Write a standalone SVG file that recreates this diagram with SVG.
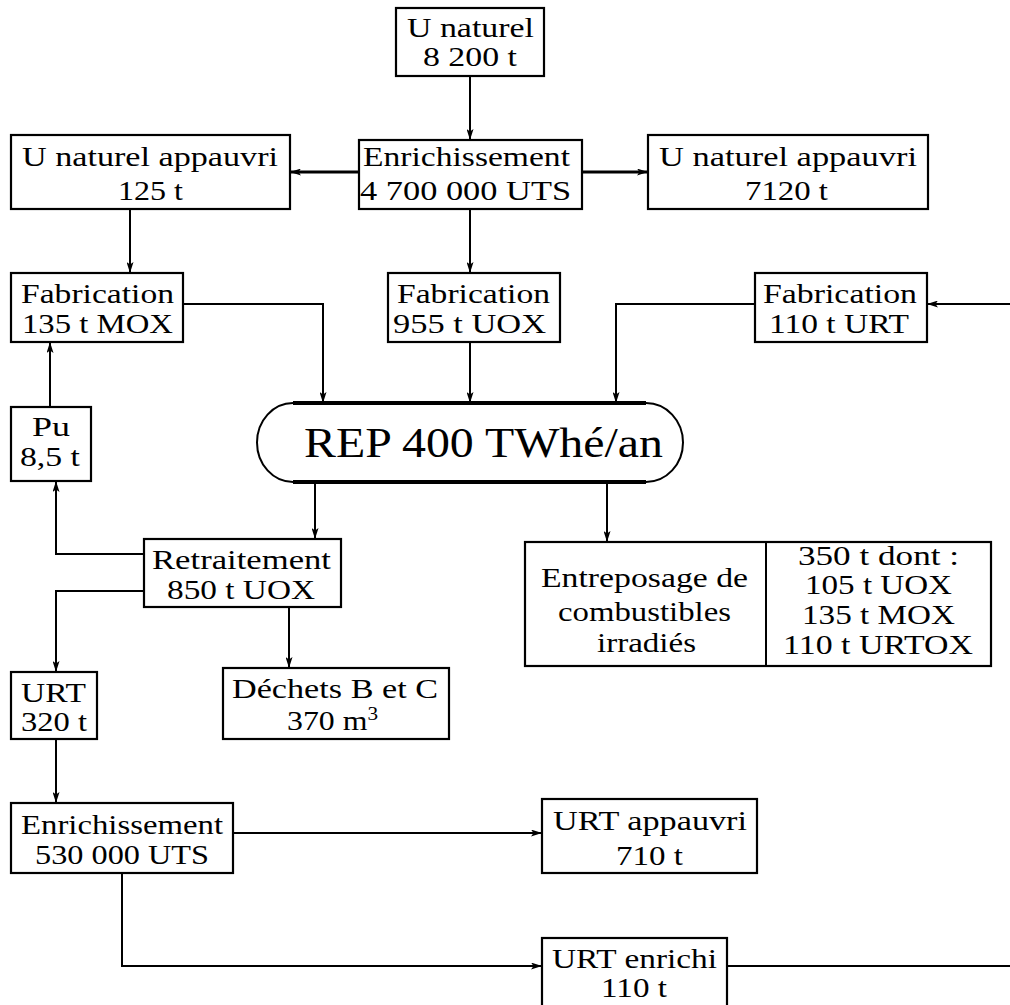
<svg xmlns="http://www.w3.org/2000/svg" width="1010" height="1005" viewBox="0 0 1010 1005">
<style>
.box{fill:#fff;stroke:#000;stroke-width:2.2}
.t{font-family:"Liberation Serif","Times New Roman",serif;font-size:27px;fill:#000}
.big{font-size:43px}
.c{fill:none;stroke:#000;stroke-width:2}
.ck{fill:none;stroke:#000;stroke-width:3}
</style>
<defs>
<marker id="ah" viewBox="0 0 11 7" refX="11" refY="3.5" markerWidth="11" markerHeight="7" markerUnits="userSpaceOnUse" orient="auto">
<path d="M0,0 L11,3.5 L0,7 L2.5,3.5 Z" fill="#000"/>
</marker>
</defs>
<rect width="1010" height="1005" fill="#fff"/>
<g id="connectors">
<path class="c" d="M470,76 V140" marker-end="url(#ah)"/>
<path class="ck" d="M359,172 H290" marker-end="url(#ah)"/>
<path class="ck" d="M582,172 H648" marker-end="url(#ah)"/>
<path class="c" d="M130,209 V273" marker-end="url(#ah)"/>
<path class="c" d="M470,209 V273" marker-end="url(#ah)"/>
<path class="c" d="M470,342 V403" marker-end="url(#ah)"/>
<path class="c" d="M183,304 H323 V403" marker-end="url(#ah)"/>
<path class="c" d="M755,304 H616 V403" marker-end="url(#ah)"/>
<path class="c" d="M1010,304 H927" marker-end="url(#ah)"/>
<path class="c" d="M50,407 V342" marker-end="url(#ah)"/>
<path class="c" d="M315,482 V539" marker-end="url(#ah)"/>
<path class="c" d="M607,482 V542" marker-end="url(#ah)"/>
<path class="c" d="M144,554 H56 V481" marker-end="url(#ah)"/>
<path class="c" d="M144,591 H56 V672" marker-end="url(#ah)"/>
<path class="c" d="M289,607 V668" marker-end="url(#ah)"/>
<path class="c" d="M56,739 V803" marker-end="url(#ah)"/>
<path class="c" d="M233,833 H542" marker-end="url(#ah)"/>
<path class="c" d="M122,873 V966 H542" marker-end="url(#ah)"/>
<path class="c" d="M727,966 H1010"/>
</g>
<g id="n-unaturel">
<rect class="box" x="396" y="8" width="148" height="68"/>
<text class="t" x="407" y="37" textLength="127" lengthAdjust="spacingAndGlyphs">U naturel</text>
<text class="t" x="423" y="66" textLength="94" lengthAdjust="spacingAndGlyphs">8 200 t</text>
</g>
<g id="n-appauvri-left">
<rect class="box" x="11" y="135" width="279" height="74"/>
<text class="t" x="22" y="166" textLength="256" lengthAdjust="spacingAndGlyphs">U naturel appauvri</text>
<text class="t" x="118" y="200" textLength="65" lengthAdjust="spacingAndGlyphs">125 t</text>
</g>
<g id="n-enrich1">
<rect class="box" x="359" y="140" width="223" height="69"/>
<text class="t" x="363" y="166" textLength="207" lengthAdjust="spacingAndGlyphs">Enrichissement</text>
<text class="t" x="360" y="200" textLength="211" lengthAdjust="spacingAndGlyphs">4 700 000 UTS</text>
</g>
<g id="n-appauvri-right">
<rect class="box" x="648" y="135" width="280" height="74"/>
<text class="t" x="659" y="166" textLength="258" lengthAdjust="spacingAndGlyphs">U naturel appauvri</text>
<text class="t" x="745" y="200" textLength="83" lengthAdjust="spacingAndGlyphs">7120 t</text>
</g>
<g id="n-fab-mox">
<rect class="box" x="11" y="273" width="172" height="69"/>
<text class="t" x="21" y="303" textLength="153" lengthAdjust="spacingAndGlyphs">Fabrication</text>
<text class="t" x="22" y="333" textLength="151" lengthAdjust="spacingAndGlyphs">135 t MOX</text>
</g>
<g id="n-fab-uox">
<rect class="box" x="388" y="273" width="172" height="69"/>
<text class="t" x="397" y="303" textLength="153" lengthAdjust="spacingAndGlyphs">Fabrication</text>
<text class="t" x="393" y="333" textLength="153" lengthAdjust="spacingAndGlyphs">955 t UOX</text>
</g>
<g id="n-fab-urt">
<rect class="box" x="755" y="273" width="172" height="69"/>
<text class="t" x="763" y="303" textLength="154" lengthAdjust="spacingAndGlyphs">Fabrication</text>
<text class="t" x="769" y="333" textLength="140" lengthAdjust="spacingAndGlyphs">110 t URT</text>
</g>
<g id="n-pu">
<rect class="box" x="11" y="407" width="80" height="74"/>
<text class="t" x="32" y="436" textLength="38" lengthAdjust="spacingAndGlyphs">Pu</text>
<text class="t" x="20" y="466" textLength="60" lengthAdjust="spacingAndGlyphs">8,5 t</text>
</g>
<g id="n-rep">
<path d="M293,403 H646 A37,39.5 0 0 1 646,482 H293 A36,39.5 0 0 1 293,403 Z" fill="#fff" stroke="none"/>
<path d="M646,403 A37,39.5 0 0 1 646,482 M293,482 A36,39.5 0 0 1 293,403" fill="none" stroke="#000" stroke-width="2"/>
<path d="M293,403 H646 M293,482 H646" fill="none" stroke="#000" stroke-width="4"/>
<text class="t big" x="304" y="457" textLength="359" lengthAdjust="spacingAndGlyphs">REP 400 TWhé/an</text>
</g>
<g id="n-retraitement">
<rect class="box" x="144" y="539" width="197" height="68"/>
<text class="t" x="152" y="569" textLength="179" lengthAdjust="spacingAndGlyphs">Retraitement</text>
<text class="t" x="167" y="599" textLength="148" lengthAdjust="spacingAndGlyphs">850 t UOX</text>
</g>
<g id="n-entreposage">
<rect class="box" x="525" y="542" width="466" height="124"/>
<line x1="766" y1="542" x2="766" y2="666" stroke="#000" stroke-width="2"/>
<text class="t" x="541" y="587" textLength="207" lengthAdjust="spacingAndGlyphs">Entreposage de</text>
<text class="t" x="558" y="621" textLength="173" lengthAdjust="spacingAndGlyphs">combustibles</text>
<text class="t" x="597" y="652" textLength="99" lengthAdjust="spacingAndGlyphs">irradiés</text>
<text class="t" x="798" y="565" textLength="161" lengthAdjust="spacingAndGlyphs">350 t dont :</text>
<text class="t" x="805" y="594" textLength="147" lengthAdjust="spacingAndGlyphs">105 t UOX</text>
<text class="t" x="802" y="624" textLength="153" lengthAdjust="spacingAndGlyphs">135 t MOX</text>
<text class="t" x="783" y="654" textLength="190" lengthAdjust="spacingAndGlyphs">110 t URTOX</text>
</g>
<g id="n-urt">
<rect class="box" x="11" y="672" width="86" height="67"/>
<text class="t" x="21" y="702" textLength="65" lengthAdjust="spacingAndGlyphs">URT</text>
<text class="t" x="21" y="731" textLength="66" lengthAdjust="spacingAndGlyphs">320 t</text>
</g>
<g id="n-dechets">
<rect class="box" x="223" y="668" width="226" height="71"/>
<text class="t" x="232" y="698" textLength="206" lengthAdjust="spacingAndGlyphs">Déchets B et C</text>
<text class="t" x="287" y="730" textLength="91" lengthAdjust="spacingAndGlyphs">370 m<tspan font-size="18" dy="-10">3</tspan></text>
</g>
<g id="n-enrich2">
<rect class="box" x="11" y="803" width="222" height="70"/>
<text class="t" x="21" y="834" textLength="202" lengthAdjust="spacingAndGlyphs">Enrichissement</text>
<text class="t" x="35" y="864" textLength="174" lengthAdjust="spacingAndGlyphs">530 000 UTS</text>
</g>
<g id="n-urt-appauvri">
<rect class="box" x="542" y="799" width="215" height="74"/>
<text class="t" x="553" y="830" textLength="194" lengthAdjust="spacingAndGlyphs">URT appauvri</text>
<text class="t" x="616" y="865" textLength="67" lengthAdjust="spacingAndGlyphs">710 t</text>
</g>
<g id="n-urt-enrichi">
<rect class="box" x="542" y="938" width="185" height="80"/>
<text class="t" x="552" y="968" textLength="165" lengthAdjust="spacingAndGlyphs">URT enrichi</text>
<text class="t" x="601" y="997" textLength="66" lengthAdjust="spacingAndGlyphs">110 t</text>
</g>
</svg>
